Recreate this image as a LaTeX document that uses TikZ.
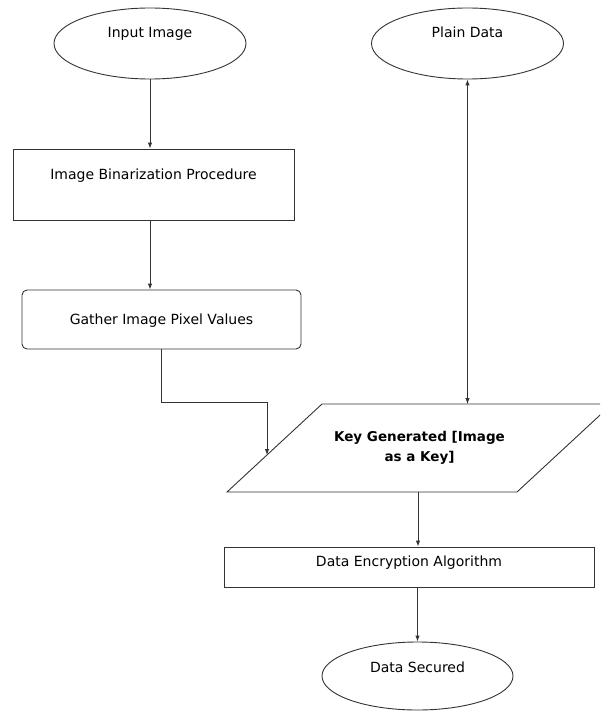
\documentclass[tikz,border=0pt]{standalone}
\usepackage{fontspec}
\setmainfont{DejaVu Sans}
\usetikzlibrary{shapes.geometric,arrows.meta}

\begin{document}
\begin{tikzpicture}[x=1pt, y=-1pt,
    line/.style={draw=black!80, line width=0.9pt},
    tip/.style={-{Latex[length=6pt,width=4.5pt]}},
    tips/.style={{Latex[length=6pt,width=4.5pt]}-{Latex[length=6pt,width=4.5pt]}},
    txt/.style={font=\fontsize{14}{17}\selectfont, inner sep=0pt, text height=10pt},
    oval/.style={ellipse, line, txt, minimum width=192pt, minimum height=71pt},
    box/.style={rectangle, line, txt, minimum height=71pt}]
  \useasboundingbox (0,0) rectangle (600,711);
  \clip (0,0) rectangle (600,711);

  \node[oval, text depth=21pt] (input) at (150,43.5) {Input Image};
  \node[oval, text depth=21pt] (plain) at (467.5,43.5) {Plain Data};
  \node[box, minimum width=281pt, text depth=19pt] (binar) at (153.5,184.5) {Image Binarization Procedure};
  \node[box, rounded corners=5pt, minimum width=279pt, minimum height=59pt, text depth=0pt] (gather) at (161.5,319.5) {Gather Image Pixel Values};
  \node[font=\bfseries\fontsize{13.5}{20}\selectfont, align=center] (keygen) at (419.5,448) {Key Generated [Image\\as a Key]};
  \node[box, minimum width=370pt, minimum height=40pt, text depth=12pt] (encrypt) at (409,567) {Data Encryption Algorithm};
  \node[oval, minimum width=191pt, minimum height=68pt, text depth=18pt] (secured) at (417.5,676) {Data Secured};

  % parallelogram round the key text
  \draw[line] (322,404) -- (612,404) -- (517,492) -- (227,492) -- cycle;
  \coordinate (kin) at (267,455);
  \coordinate (ktop) at (467.5,404);
  \coordinate (kbot) at (418,492);

  \draw[line, tip] (input.south) -- (input.south |- binar.north);
  \draw[line, tip] (binar.south -| input) -- (gather.north -| input);
  \draw[line, tip] (gather.south) -- ++(0,53) -| (kin);
  \draw[line, tips] (plain.south) -- (ktop);
  \draw[line, tip] (kbot) -- (kbot |- encrypt.north);
  \draw[line, tip] (secured.north |- encrypt.south) -- (secured.north);
\end{tikzpicture}
\end{document}
